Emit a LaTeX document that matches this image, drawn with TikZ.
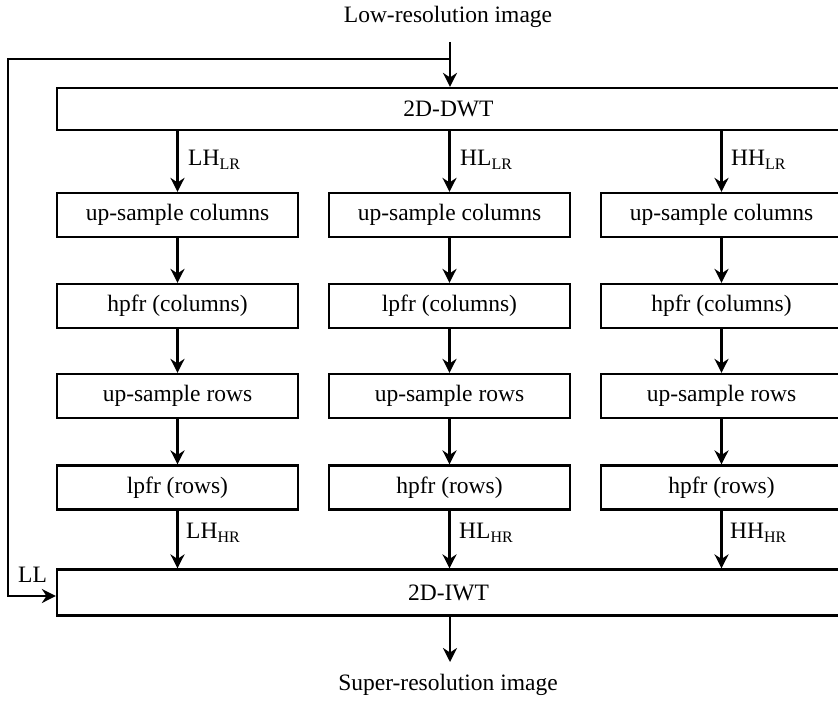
\documentclass[tikz,border=0pt]{standalone}
\usepackage{fontspec}
\setmainfont{Liberation Serif}
\usetikzlibrary{arrows.meta}
\newcommand\mysub[1]{\raisebox{-4.5pt}{\fontsize{16}{16}\selectfont #1}}
\begin{document}
\begin{tikzpicture}[x=1pt,y=-1pt,
  box/.style={draw, line width=2.2pt, minimum height=44pt, minimum width=241pt, inner sep=0pt, font=\fontsize{23.5}{26}\selectfont},
  lab/.style={font=\fontsize{23.5}{26}\selectfont, inner sep=0pt},
  arr/.style={line width=2.2pt, -{Stealth[length=14pt,width=14pt,inset=4.5pt]}},
  ln/.style={line width=2.2pt}]
\path[use as bounding box] (0,0) rectangle (838,701);
\clip (0,0) rectangle (838,701);
\node[lab] (in) at (448,17) {Low-resolution image};
\node[box, minimum width=783pt, minimum height=42pt] (dwt) at (448.5,109) {2D-DWT};
\node[box, minimum width=783pt, minimum height=46pt] (iwt) at (448.5,592.5) {2D-IWT};
\node[lab] (out) at (448,685) {Super-resolution image};
% column 1
\node[box] (a1) at (177.5,215) {up-sample columns};
\node[box] (a2) at (177.5,306) {hpfr (columns)};
\node[box] (a3) at (177.5,396) {up-sample rows};
\node[box] (a4) at (177.5,487.5) {lpfr (rows)};
% column 2
\node[box] (b1) at (449.5,215) {up-sample columns};
\node[box] (b2) at (449.5,306) {lpfr (columns)};
\node[box] (b3) at (449.5,396) {up-sample rows};
\node[box] (b4) at (449.5,487.5) {hpfr (rows)};
% column 3
\node[box] (c1) at (721.5,215) {up-sample columns};
\node[box] (c2) at (721.5,306) {hpfr (columns)};
\node[box] (c3) at (721.5,396) {up-sample rows};
\node[box] (c4) at (721.5,487.5) {hpfr (rows)};
% input and feedback
\coordinate (inTop) at (450,42);
\coordinate (fbA) at (450,59);
\coordinate (fbB) at (8,59);
\coordinate (fbC) at (8,596);
\draw[arr] (inTop) -- (inTop |- dwt.north);
\draw[arr] (fbA) -- (fbB) -- (fbC) -- (fbC -| iwt.west);
\node[lab, anchor=west] (ll) at (18,575) {LL};
% column arrows
\foreach \c in {a,b,c}{
  \draw[arr] (dwt.south -| \c1.north) -- (\c1.north);
  \draw[arr] (\c1.south) -- (\c2.north);
  \draw[arr] (\c2.south) -- (\c3.north);
  \draw[arr] (\c3.south) -- (\c4.north);
  \draw[arr] (\c4.south) -- (\c4.south |- iwt.north);
}
% output
\coordinate (outTip) at (450,662);
\draw[arr] (outTip |- iwt.south) -- (outTip);
% labels
\node[lab, anchor=west] (l1) at (188,160) {LH\mysub{LR}};
\node[lab, anchor=west] (l2) at (460,160) {HL\mysub{LR}};
\node[lab, anchor=west] (l3) at (731,160) {HH\mysub{LR}};
\node[lab, anchor=west] (h1) at (186,533) {LH\mysub{HR}};
\node[lab, anchor=west] (h2) at (459,533) {HL\mysub{HR}};
\node[lab, anchor=west] (h3) at (730,533) {HH\mysub{HR}};
\end{tikzpicture}
\end{document}
